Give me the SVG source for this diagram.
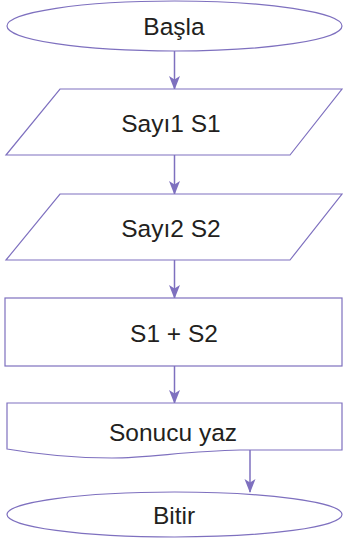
<svg xmlns="http://www.w3.org/2000/svg" width="343" height="539" viewBox="0 0 343 539">
<style>
.s{fill:#fff;stroke:#7e70bf;stroke-width:1.2}
.t{font-family:"Liberation Sans",Arial,sans-serif;font-size:24.5px;fill:#231f20;text-anchor:middle}
.c{fill:none;stroke:#7e70bf;stroke-width:1.5}
</style>
<defs>
<marker id="ah" viewBox="0 0 14 12" refX="13" refY="6" markerWidth="14" markerHeight="12" markerUnits="userSpaceOnUse" orient="auto">
<path d="M0,0.5 L14,6 L0,11.5 L3.5,6 Z" fill="#7e70bf"/>
</marker>
</defs>
<g id="connectors">
<line class="c" x1="174.5" y1="51" x2="174.5" y2="89" marker-end="url(#ah)"/>
<line class="c" x1="174.5" y1="155" x2="174.5" y2="194" marker-end="url(#ah)"/>
<line class="c" x1="174.5" y1="260" x2="174.5" y2="298" marker-end="url(#ah)"/>
<line class="c" x1="174.5" y1="366" x2="174.5" y2="403" marker-end="url(#ah)"/>
<line class="c" x1="250" y1="450" x2="250" y2="492" marker-end="url(#ah)"/>
</g>
<g id="start">
<ellipse class="s" cx="174.5" cy="26" rx="167.5" ry="25"/>
<text class="t" x="174" y="34.5">Başla</text>
</g>
<g id="input1">
<polygon class="s" points="60,89 342,89 290,155 6,155"/>
<text class="t" x="171" y="131.5">Sayı1 S1</text>
</g>
<g id="input2">
<polygon class="s" points="60,194 342,194 290,260 6,260"/>
<text class="t" x="171" y="236.5">Sayı2 S2</text>
</g>
<g id="process">
<rect class="s" x="5" y="298" width="337" height="68"/>
<text class="t" x="174" y="342">S1 + S2</text>
</g>
<g id="output">
<path class="s" d="M7,403 H342 V450 H240 C185,451 150,458 112,458 C70,458 30,453 7,449 Z"/>
<text class="t" x="173" y="440.5">Sonucu yaz</text>
</g>
<g id="end">
<ellipse class="s" cx="174.5" cy="514.5" rx="167.5" ry="22.5"/>
<text class="t" x="174" y="524">Bitir</text>
</g>
</svg>
